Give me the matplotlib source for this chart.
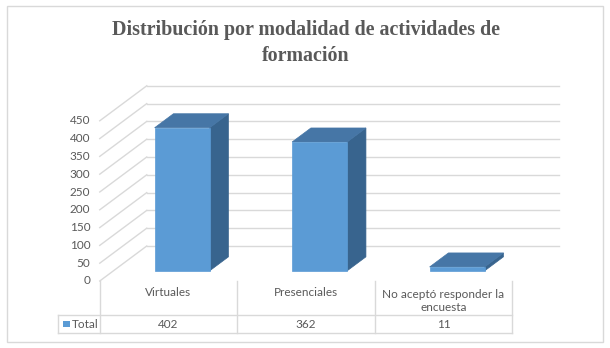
import matplotlib
matplotlib.use("Agg")
import matplotlib.pyplot as plt
from matplotlib.patches import Polygon, Rectangle

# ---- data ----
categories = ["Virtuales", "Presenciales", "No aceptó responder la\nencuesta"]
values = [402, 362, 11]
series_name = "Total"
yticks = [0, 50, 100, 150, 200, 250, 300, 350, 400, 450]
title_lines = ["Distribución por modalidad de actividades de", "formación"]

# ---- layout constants (pixels) ----
W, H, DPI = 610, 348, 100
CAT_PX = 137.5        # px per category
CAT0_PX = 168.5       # px of category 0 centre on the front floor edge
VAL_PX = 0.356        # px per value unit
FLOOR_PY = 281.0      # py (from top) of value 0 on the front edge
DEPTH_DX_PX, DEPTH_DY_PX = 47.0, 35.0

DXc = DEPTH_DX_PX / CAT_PX
DYv = DEPTH_DY_PX / VAL_PX
D0, D1 = 0.29, 0.69   # bar depth range (fraction of floor depth)
HW = 0.2              # half bar width in category units

TXT = "#595959"
GRID = "#D9D9D9"
FRONT = "#5B9BD5"
TOP = "#4676A6"
SIDE = "#38648E"

plt.rcParams['font.family'] = ['Lato', 'DejaVu Sans']

fig = plt.figure(figsize=(W / DPI, H / DPI), dpi=DPI)
ax = fig.add_axes([0, 0, 1, 1])
ax.set_xlim((0 - CAT0_PX) / CAT_PX, (W - CAT0_PX) / CAT_PX)
ax.set_ylim((FLOOR_PY - H) / VAL_PX, FLOOR_PY / VAL_PX)
ax.axis("off")


def py2v(py):
    return (FLOOR_PY - py) / VAL_PX


def px2c(px):
    return (px - CAT0_PX) / CAT_PX


n = len(categories)
left, right = -0.5, n - 0.5

# back wall grid + left wall diagonals
for v in yticks:
    ax.plot([left + DXc, right + DXc], [v + DYv, v + DYv], color=GRID, lw=1.0, zorder=1)
    ax.plot([left, left + DXc], [v, v + DYv], color=GRID, lw=1.0, zorder=1)
    ax.text(px2c(90.5), v, f"{v}", ha="right", va="center", fontsize=8.5, color=TXT)

# bars
xs = [i + D0 * DXc for i in range(n)]
bottoms = [D0 * DYv] * n
for i, v in enumerate(values):
    x0, x1 = xs[i] - HW, xs[i] + HW
    b = bottoms[i]
    t = b + v
    ddx = (D1 - D0) * DXc
    ddy = (D1 - D0) * DYv
    side = Polygon([(x1, b), (x1 + ddx, b + ddy), (x1 + ddx, t + ddy), (x1, t)],
                   closed=True, facecolor=SIDE, edgecolor=SIDE, lw=0.5, zorder=3 + i)
    top = Polygon([(x0, t), (x0 + ddx, t + ddy), (x1 + ddx, t + ddy), (x1, t)],
                  closed=True, facecolor=TOP, edgecolor=TOP, lw=0.5, zorder=3 + i)
    ax.add_patch(side)
    ax.add_patch(top)
ax.bar(xs, values, width=2 * HW, bottom=bottoms, color=FRONT, edgecolor=FRONT,
       lw=0.5, zorder=6)

# data table
row_top, row_bot = py2v(314.7), py2v(333.0)
tbl_left = px2c(58)
for xv in [left + k for k in range(n + 1)]:
    ax.plot([xv, xv], [0, row_bot], color=GRID, lw=1.0, zorder=1)
ax.plot([tbl_left, right], [row_top, row_top], color=GRID, lw=1.0, zorder=1)
ax.plot([tbl_left, right], [row_bot, row_bot], color=GRID, lw=1.0, zorder=1)
ax.plot([tbl_left, tbl_left], [row_top, row_bot], color=GRID, lw=1.0, zorder=1)

for i, (c, v) in enumerate(zip(categories, values)):
    if "\n" in c:
        ax.text(i, py2v(301), c, ha="center", va="center", fontsize=8.5,
                color=TXT, linespacing=1.25)
    else:
        ax.text(i, py2v(293), c, ha="center", va="center", fontsize=8.5, color=TXT)
    ax.text(i, py2v(324), f"{v}", ha="center", va="center", fontsize=8.5, color=TXT)

ax.add_patch(Rectangle((px2c(63), py2v(327)), px2c(70) - px2c(63), py2v(321) - py2v(327),
                       facecolor=FRONT, edgecolor="none", zorder=4))
ax.text(px2c(71.5), py2v(324), series_name, ha="left", va="center", fontsize=8.5, color=TXT)

# outer border
ax.add_patch(Rectangle((px2c(7.3), py2v(342)), px2c(602.7) - px2c(7.3), py2v(5.7) - py2v(342),
                       facecolor="none", edgecolor=GRID, lw=1.0, zorder=0))

# title (two lines placed at their baselines)
for line, base_py in zip(title_lines, [35.0, 61.0]):
    fig.text(305.5 / W, 1 - base_py / H, line, ha="center", va="baseline", fontsize=14.4,
             fontweight="bold", family=["Liberation Serif", "DejaVu Serif"], color=TXT)

fig.savefig("out.png", dpi=DPI)
